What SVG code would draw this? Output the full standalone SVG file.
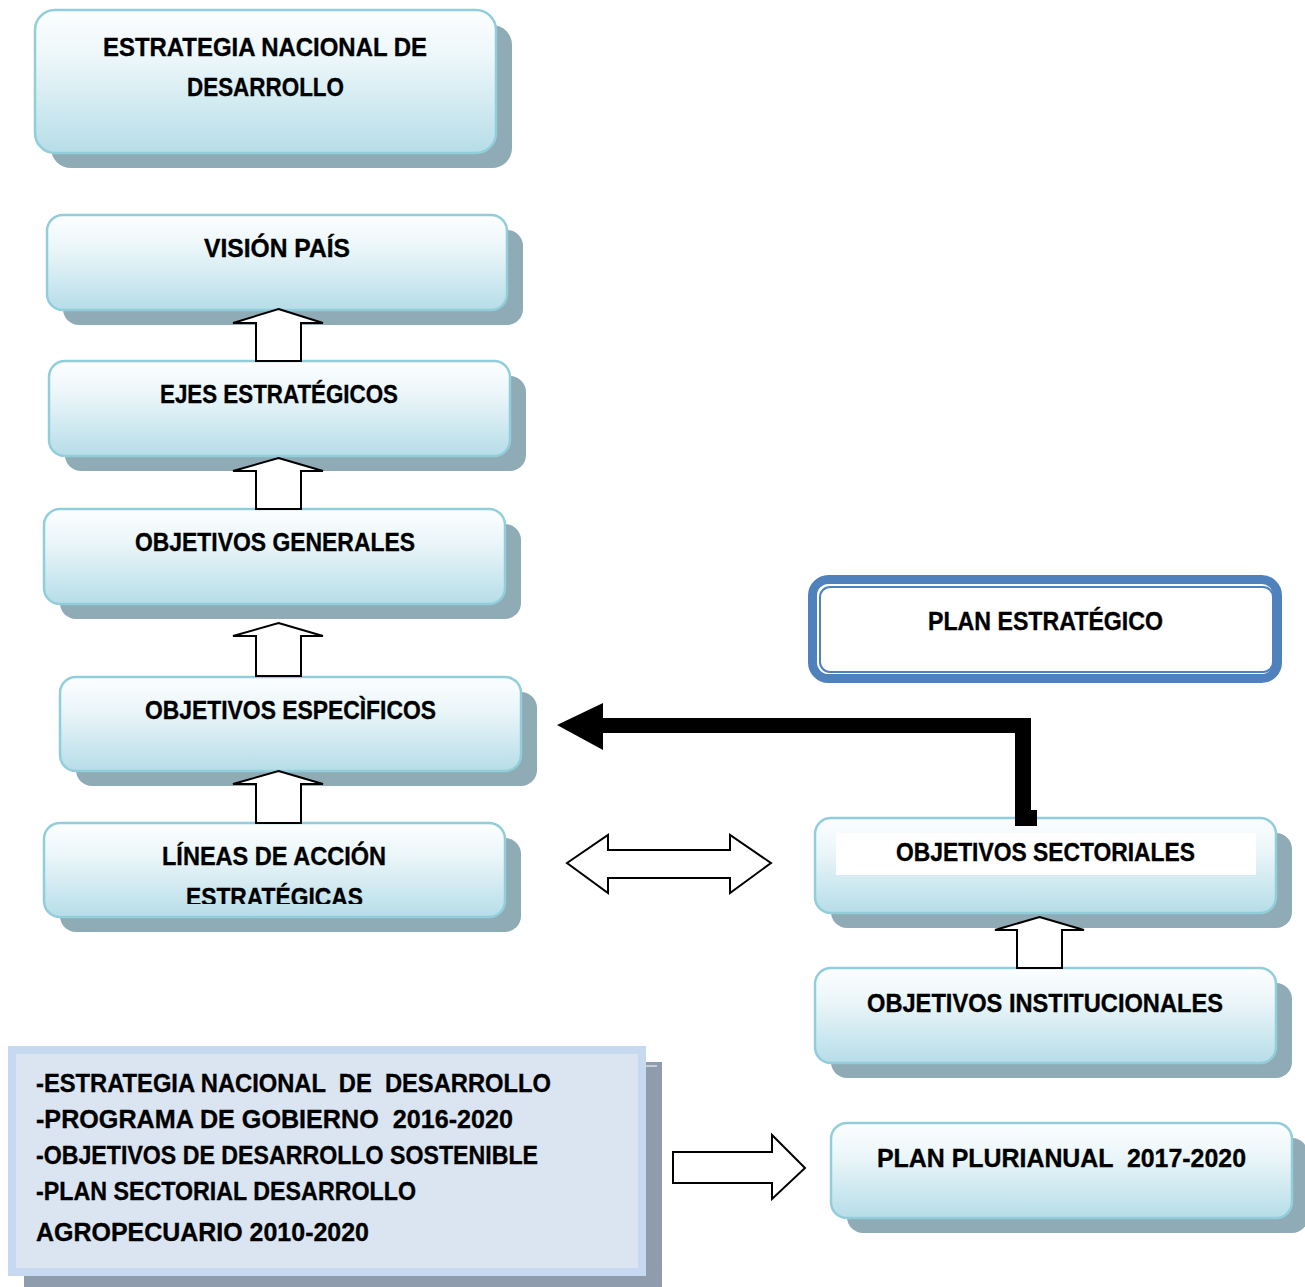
<svg xmlns="http://www.w3.org/2000/svg" width="1305" height="1287" viewBox="0 0 1305 1287">
<style>
.shadow{fill:#8fabb5}
.box{fill:url(#g);stroke:#92cddc;stroke-width:2.5}
.t{font-family:"Liberation Sans","Open Sans",Arial,sans-serif;font-weight:bold;font-size:26px;fill:#000;stroke:#000;stroke-width:0.35;white-space:pre}
.blk{fill:#fff;stroke:#000;stroke-width:2;stroke-linejoin:miter}
</style>
<defs>
<linearGradient id="g" x1="0" y1="0" x2="0" y2="1">
<stop offset="0" stop-color="#fdfeff"/>
<stop offset="0.35" stop-color="#ebf6f9"/>
<stop offset="1" stop-color="#b6dde8"/>
</linearGradient>
<clipPath id="clipL"><rect x="44" y="823" width="461" height="81"/></clipPath>
</defs>

<g id="node-endd">
<rect class="shadow" x="51" y="25" width="461" height="143" rx="20"/>
<rect class="box" x="35" y="10" width="461" height="143" rx="20"/>
<text class="t" x="103" y="56" textLength="324" lengthAdjust="spacingAndGlyphs">ESTRATEGIA NACIONAL DE</text>
<text class="t" x="187" y="96" textLength="157" lengthAdjust="spacingAndGlyphs">DESARROLLO</text>
</g>

<g id="node-vision">
<rect class="shadow" x="63" y="230" width="460" height="95" rx="16"/>
<rect class="box" x="47" y="215" width="460" height="95" rx="16"/>
<text class="t" x="204" y="257" textLength="146" lengthAdjust="spacingAndGlyphs">VISIÓN PAÍS</text>
</g>

<g id="node-ejes">
<rect class="shadow" x="65" y="376" width="461" height="95" rx="16"/>
<rect class="box" x="49" y="361" width="461" height="95" rx="16"/>
<text class="t" x="160" y="403" textLength="238" lengthAdjust="spacingAndGlyphs">EJES ESTRATÉGICOS</text>
</g>

<g id="node-objgen">
<rect class="shadow" x="60" y="524" width="461" height="95" rx="16"/>
<rect class="box" x="44" y="509" width="461" height="95" rx="16"/>
<text class="t" x="135" y="551" textLength="280" lengthAdjust="spacingAndGlyphs">OBJETIVOS GENERALES</text>
</g>

<g id="node-objesp">
<rect class="shadow" x="76" y="692" width="461" height="94" rx="16"/>
<rect class="box" x="60" y="677" width="461" height="94" rx="16"/>
<text class="t" x="145" y="719" textLength="291" lengthAdjust="spacingAndGlyphs">OBJETIVOS ESPECÌFICOS</text>
</g>

<g id="node-lineas">
<rect class="shadow" x="60" y="838" width="461" height="94" rx="16"/>
<rect class="box" x="44" y="823" width="461" height="94" rx="16"/>
<text class="t" x="162" y="865" textLength="224" lengthAdjust="spacingAndGlyphs">LÍNEAS DE ACCIÓN</text>
<text class="t" x="186" y="906" textLength="177" lengthAdjust="spacingAndGlyphs" clip-path="url(#clipL)">ESTRATÉGICAS</text>
</g>

<g id="node-planest">
<rect x="812.5" y="579.5" width="465" height="99" rx="16" fill="#fff" stroke="#4f81bd" stroke-width="9"/>
<rect x="820" y="587" width="453" height="85" rx="10" fill="none" stroke="#4f81bd" stroke-width="2"/>
<text class="t" x="928" y="630" textLength="235" lengthAdjust="spacingAndGlyphs">PLAN ESTRATÉGICO</text>
</g>

<g id="node-objsect">
<rect class="shadow" x="831" y="833" width="461" height="95" rx="16"/>
<rect class="box" x="815" y="818" width="461" height="95" rx="16"/>
<rect x="836" y="833" width="420" height="42" fill="#fff"/>
<text class="t" x="896" y="861" textLength="299" lengthAdjust="spacingAndGlyphs">OBJETIVOS SECTORIALES</text>
</g>

<g id="node-objinst">
<rect class="shadow" x="831" y="983" width="461" height="95" rx="16"/>
<rect class="box" x="815" y="968" width="461" height="95" rx="16"/>
<text class="t" x="867" y="1012" textLength="356" lengthAdjust="spacingAndGlyphs">OBJETIVOS INSTITUCIONALES</text>
</g>

<g id="node-planplur">
<rect class="shadow" x="847" y="1138" width="461" height="95" rx="16"/>
<rect class="box" x="831" y="1123" width="461" height="95" rx="16"/>
<text class="t" x="877" y="1167" textLength="369" lengthAdjust="spacingAndGlyphs">PLAN PLURIANUAL  2017-2020</text>
</g>

<g id="node-fuentes">
<rect x="24" y="1062" width="638" height="225" fill="#8f9cae"/>
<line x1="646" y1="1066" x2="657" y2="1066" stroke="#fff" stroke-width="1"/>
<rect x="8" y="1046" width="638" height="230" fill="#c6d9f1"/>
<rect x="16" y="1054" width="622" height="214" fill="#dbe5f1"/>
<text class="t" x="36" y="1092" textLength="515" lengthAdjust="spacingAndGlyphs">-ESTRATEGIA NACIONAL  DE  DESARROLLO</text>
<text class="t" x="36" y="1128" textLength="477" lengthAdjust="spacingAndGlyphs">-PROGRAMA DE GOBIERNO  2016-2020</text>
<text class="t" x="36" y="1164" textLength="502" lengthAdjust="spacingAndGlyphs">-OBJETIVOS DE DESARROLLO SOSTENIBLE</text>
<text class="t" x="36" y="1200" textLength="380" lengthAdjust="spacingAndGlyphs">-PLAN SECTORIAL DESARROLLO</text>
<text class="t" x="36" y="1241" textLength="333" lengthAdjust="spacingAndGlyphs">AGROPECUARIO 2010-2020</text>
</g>

<g id="connectors">
<polygon class="blk" points="278.5,309 323,323 301,323 301,361 256,361 256,323 233,323"/>
<polygon class="blk" points="278.5,458 323,471 301,471 301,509 256,509 256,471 233,471"/>
<polygon class="blk" points="278.5,623 323,636 301,636 301,676 256,676 256,636 233,636"/>
<polygon class="blk" points="278.5,771 323,784 301,784 301,823 256,823 256,784 233,784"/>
<polygon class="blk" points="1039.5,917 1084,930 1062,930 1062,968 1017,968 1017,930 995,930"/>
<polygon class="blk" points="567,863 608,835 608,850 730,850 730,835 771,863 730,893 730,878 608,878 608,893"/>
<polygon class="blk" points="673,1152 772,1152 772,1135 805,1168 772,1199 772,1183 673,1183"/>
<polygon fill="#000" points="557,725 603,703 603,718 1031,718 1031,810 1037,810 1037,826 1015,826 1015,733 603,733 603,750"/>
</g>
</svg>
